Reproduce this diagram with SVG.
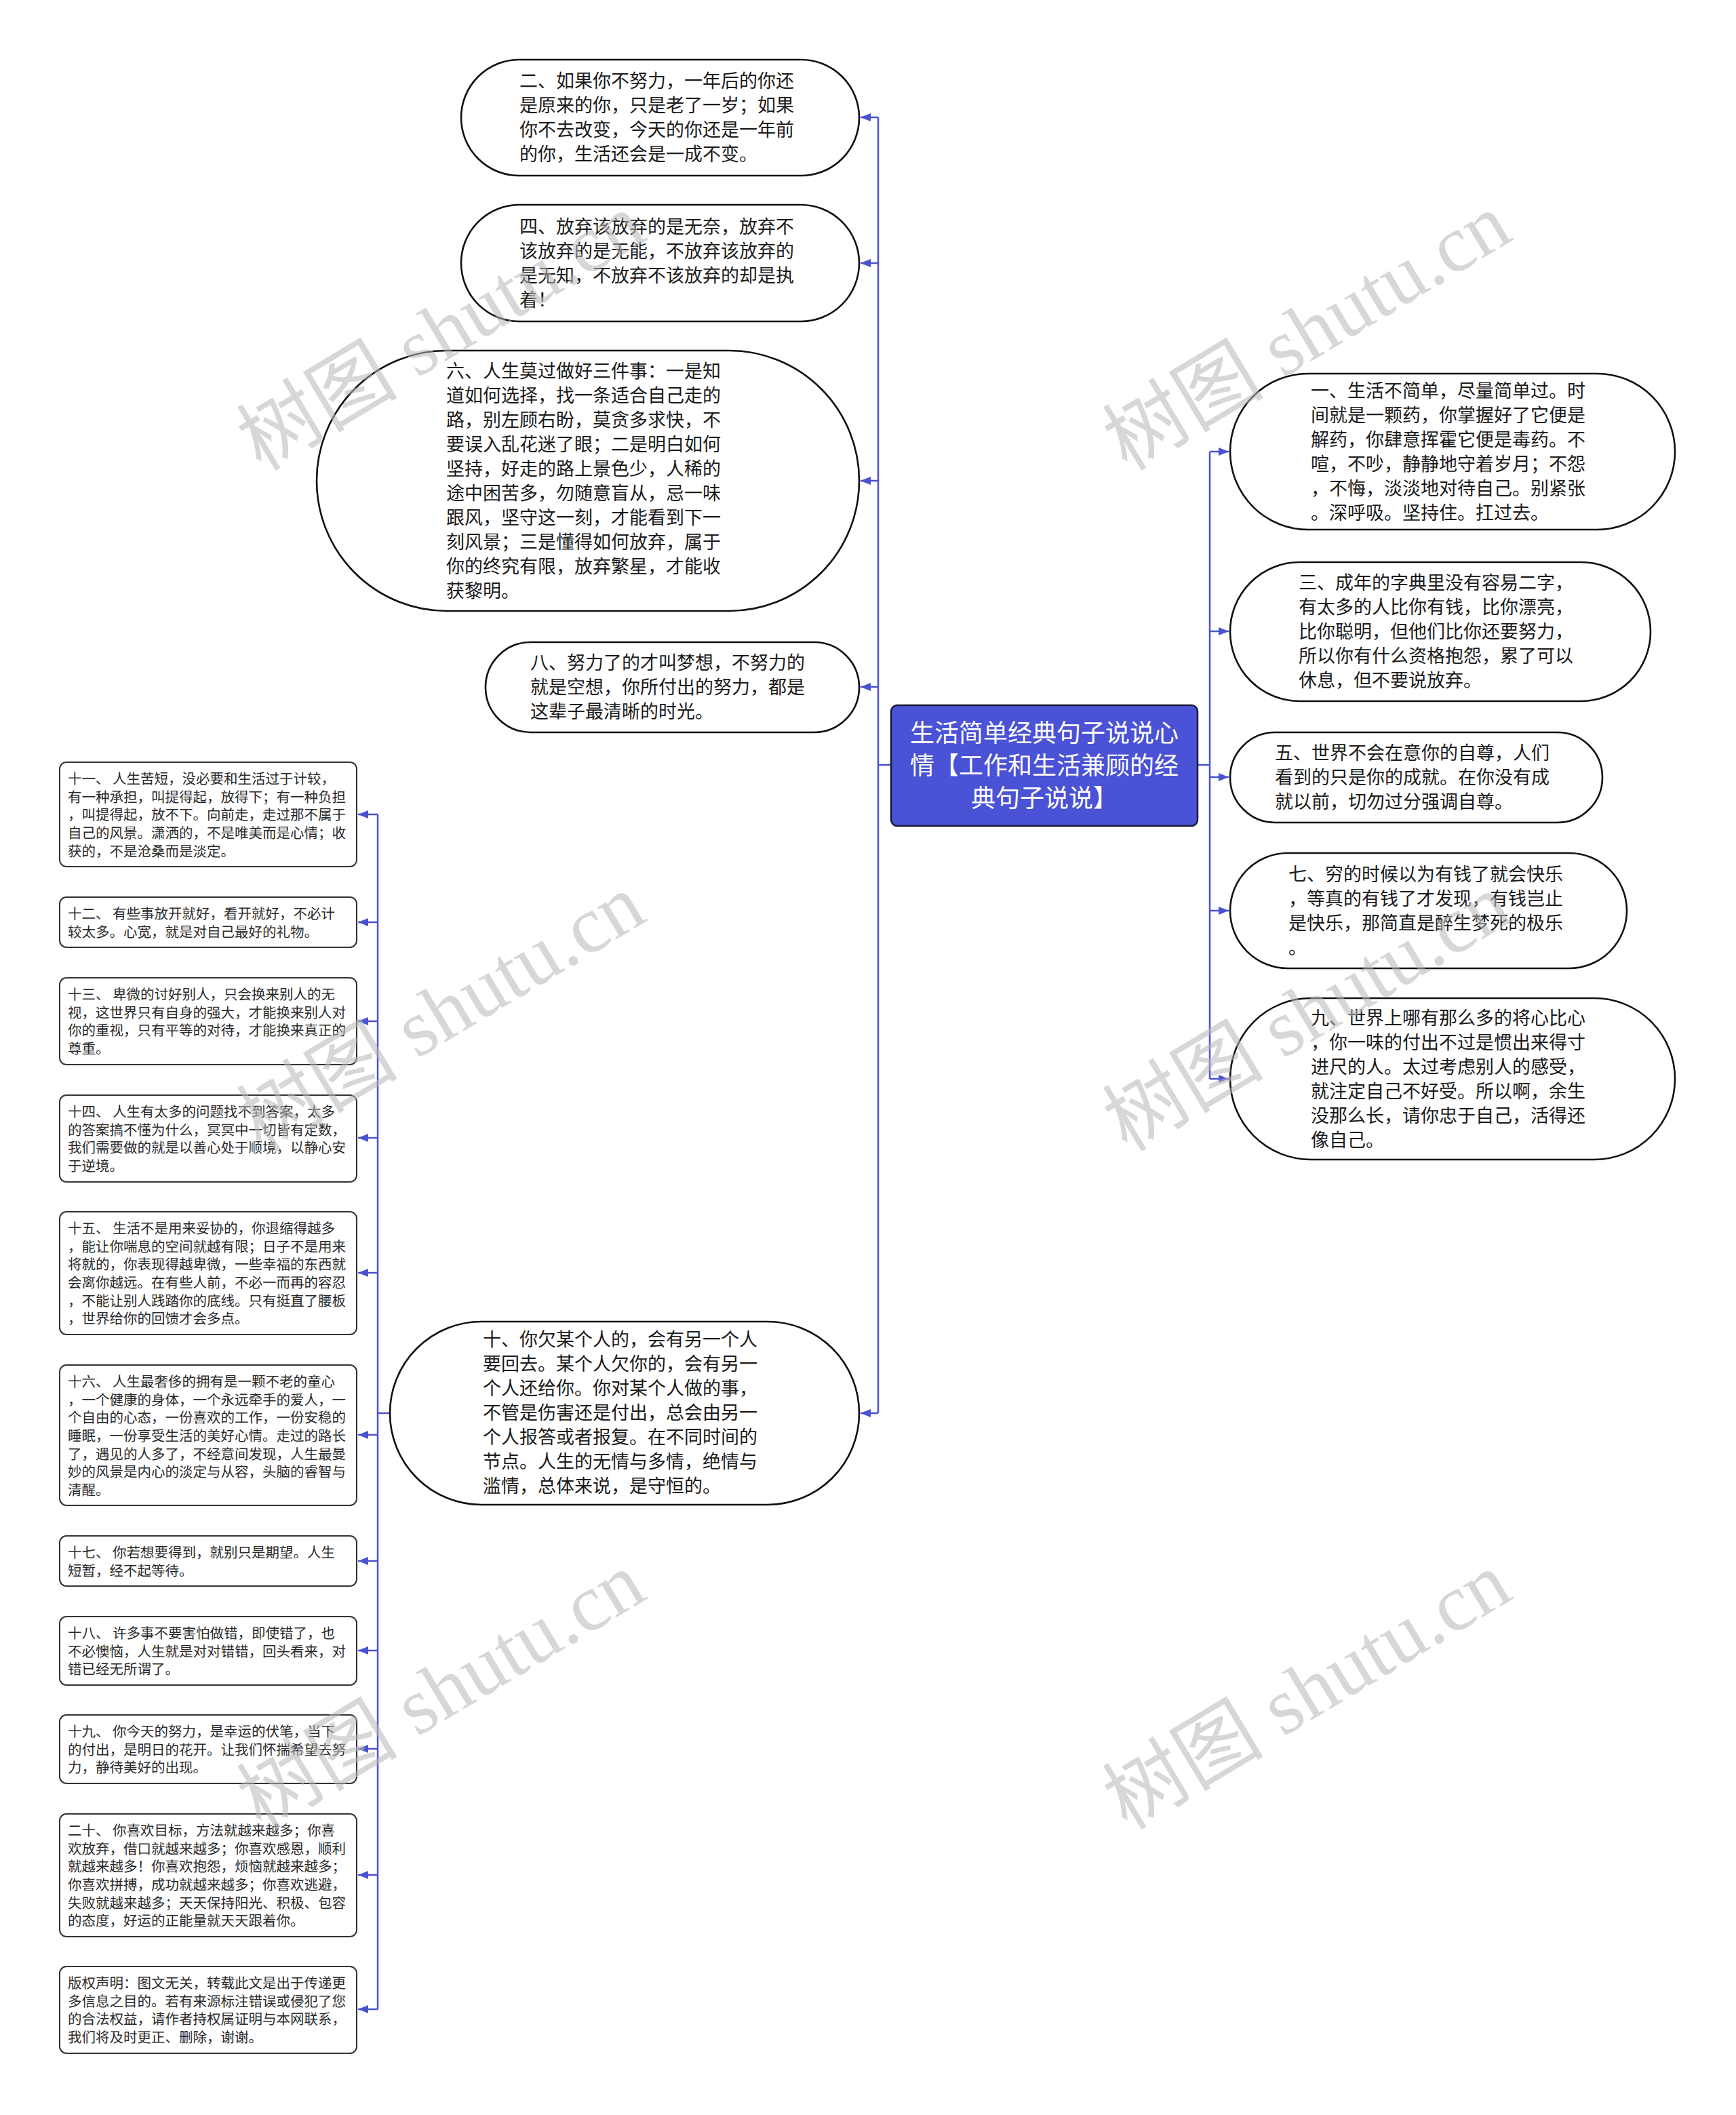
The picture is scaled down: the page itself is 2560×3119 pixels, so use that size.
<svg xmlns="http://www.w3.org/2000/svg" width="2560" height="3119" viewBox="0 0 2560 3119">
<defs>
<style>
.bg{fill:#ffffff}
.pill{fill:#ffffff;stroke:#111111;stroke-width:2.6}
.box{fill:#ffffff;stroke:#333333;stroke-width:2}
.root{fill:#4A52D6;stroke:#1a1a3a;stroke-width:2.5}
.t{font-family:"Noto Sans CJK SC","Noto Sans",sans-serif;font-size:27px;fill:#1a1a1a}
.s{font-family:"Noto Sans CJK SC","Noto Sans",sans-serif;font-size:20.5px;fill:#2a2a2a}
.rt{font-family:"Noto Sans CJK SC","Noto Sans",sans-serif;font-size:36px;fill:#ffffff;text-anchor:middle}
.ln{fill:none;stroke:#4A52D0;stroke-width:2.5}
.ar{fill:none;stroke:#4A52D0;stroke-width:2.5;marker-end:url(#arr)}
.wm{font-family:"Liberation Serif","Noto Sans CJK SC",serif;font-size:119px;fill:#b8b8b8;opacity:0.55}
</style>
<marker id="arr" markerUnits="userSpaceOnUse" markerWidth="15" markerHeight="12" refX="15" refY="6" orient="auto">
<path d="M0,0 L15,6 L0,12 Z" fill="#4A52D0"/>
</marker>
</defs>
<rect class="bg" x="0" y="0" width="2560" height="3119"/>

<g id="connectors">
<path class="ln" d="M1313,1128 H1295"/>
<path class="ln" d="M1295,173 V2084"/>
<path class="ar" d="M1295,173 H1269"/>
<path class="ar" d="M1295,388 H1269"/>
<path class="ar" d="M1295,709 H1269"/>
<path class="ar" d="M1295,1013 H1269"/>
<path class="ar" d="M1295,2084 H1269"/>
<path class="ln" d="M1766,1128 H1784"/>
<path class="ln" d="M1784,666 V1591"/>
<path class="ar" d="M1784,666 H1812"/>
<path class="ar" d="M1784,931 H1812"/>
<path class="ar" d="M1784,1146 H1812"/>
<path class="ar" d="M1784,1343 H1812"/>
<path class="ar" d="M1784,1591 H1812"/>
<path class="ln" d="M575,2084 H557"/>
<path class="ln" d="M557,1201 V2963"/>
<path class="ar" d="M557,1201 H528"/>
<path class="ar" d="M557,1360 H528"/>
<path class="ar" d="M557,1506 H528"/>
<path class="ar" d="M557,1678 H528"/>
<path class="ar" d="M557,1877 H528"/>
<path class="ar" d="M557,2116 H528"/>
<path class="ar" d="M557,2302 H528"/>
<path class="ar" d="M557,2434 H528"/>
<path class="ar" d="M557,2579 H528"/>
<path class="ar" d="M557,2765 H528"/>
<path class="ar" d="M557,2963 H528"/>
</g>

<g id="root">
<rect class="root" x="1314" y="1040" width="452" height="178" rx="9"/>
<text class="rt"><tspan x="1540" y="1094">生活简单经典句子说说心</tspan><tspan x="1540" y="1142">情【工作和生活兼顾的经</tspan><tspan x="1540" y="1190">典句子说说】</tspan></text>
</g>

<g id="n2">
<rect class="pill" x="680" y="88" width="587" height="171" rx="85.5"/>
<text class="t"><tspan x="766" y="129">二、如果你不努力，一年后的你还</tspan><tspan x="766" y="165">是原来的你，只是老了一岁；如果</tspan><tspan x="766" y="201">你不去改变，今天的你还是一年前</tspan><tspan x="766" y="237">的你，生活还会是一成不变。</tspan></text>
</g>
<g id="n4">
<rect class="pill" x="680" y="302" width="587" height="172" rx="86"/>
<text class="t"><tspan x="766" y="344">四、放弃该放弃的是无奈，放弃不</tspan><tspan x="766" y="380">该放弃的是无能，不放弃该放弃的</tspan><tspan x="766" y="416">是无知，不放弃不该放弃的却是执</tspan><tspan x="766" y="452">着！</tspan></text>
</g>
<g id="n6">
<rect class="pill" x="467" y="517" width="800" height="384" rx="192"/>
<text class="t"><tspan x="658" y="557">六、人生莫过做好三件事：一是知</tspan><tspan x="658" y="593">道如何选择，找一条适合自己走的</tspan><tspan x="658" y="629">路，别左顾右盼，莫贪多求快，不</tspan><tspan x="658" y="665">要误入乱花迷了眼；二是明白如何</tspan><tspan x="658" y="701">坚持，好走的路上景色少，人稀的</tspan><tspan x="658" y="737">途中困苦多，勿随意盲从，忌一味</tspan><tspan x="658" y="773">跟风，坚守这一刻，才能看到下一</tspan><tspan x="658" y="809">刻风景；三是懂得如何放弃，属于</tspan><tspan x="658" y="845">你的终究有限，放弃繁星，才能收</tspan><tspan x="658" y="881">获黎明。</tspan></text>
</g>
<g id="n8">
<rect class="pill" x="716" y="947" width="551" height="133" rx="66.5"/>
<text class="t"><tspan x="782" y="987">八、努力了的才叫梦想，不努力的</tspan><tspan x="782" y="1023">就是空想，你所付出的努力，都是</tspan><tspan x="782" y="1059">这辈子最清晰的时光。</tspan></text>
</g>
<g id="n10">
<rect class="pill" x="575" y="1949" width="692" height="270" rx="135"/>
<text class="t"><tspan x="712" y="1985">十、你欠某个人的，会有另一个人</tspan><tspan x="712" y="2021">要回去。某个人欠你的，会有另一</tspan><tspan x="712" y="2057">个人还给你。你对某个人做的事，</tspan><tspan x="712" y="2093">不管是伤害还是付出，总会由另一</tspan><tspan x="712" y="2129">个人报答或者报复。在不同时间的</tspan><tspan x="712" y="2165">节点。人生的无情与多情，绝情与</tspan><tspan x="712" y="2201">滥情，总体来说，是守恒的。</tspan></text>
</g>

<g id="n1">
<rect class="pill" x="1814" y="551" width="656" height="230" rx="115"/>
<text class="t"><tspan x="1933" y="586">一、生活不简单，尽量简单过。时</tspan><tspan x="1933" y="622">间就是一颗药，你掌握好了它便是</tspan><tspan x="1933" y="658">解药，你肆意挥霍它便是毒药。不</tspan><tspan x="1933" y="694">喧，不吵，静静地守着岁月；不怨</tspan><tspan x="1933" y="730">，不悔，淡淡地对待自己。别紧张</tspan><tspan x="1933" y="766">。深呼吸。坚持住。扛过去。</tspan></text>
</g>
<g id="n3">
<rect class="pill" x="1814" y="829" width="620" height="205" rx="102.5"/>
<text class="t"><tspan x="1915" y="869">三、成年的字典里没有容易二字，</tspan><tspan x="1915" y="905">有太多的人比你有钱，比你漂亮，</tspan><tspan x="1915" y="941">比你聪明，但他们比你还要努力，</tspan><tspan x="1915" y="977">所以你有什么资格抱怨，累了可以</tspan><tspan x="1915" y="1013">休息，但不要说放弃。</tspan></text>
</g>
<g id="n5">
<rect class="pill" x="1814" y="1080" width="549" height="133" rx="66.5"/>
<text class="t"><tspan x="1880" y="1120">五、世界不会在意你的自尊，人们</tspan><tspan x="1880" y="1156">看到的只是你的成就。在你没有成</tspan><tspan x="1880" y="1192">就以前，切勿过分强调自尊。</tspan></text>
</g>
<g id="n7">
<rect class="pill" x="1814" y="1258" width="585" height="170" rx="85"/>
<text class="t"><tspan x="1900" y="1299">七、穷的时候以为有钱了就会快乐</tspan><tspan x="1900" y="1335">，等真的有钱了才发现，有钱岂止</tspan><tspan x="1900" y="1371">是快乐，那简直是醉生梦死的极乐</tspan><tspan x="1900" y="1407">。</tspan></text>
</g>
<g id="n9">
<rect class="pill" x="1814" y="1472" width="656" height="238" rx="119"/>
<text class="t"><tspan x="1933" y="1511">九、世界上哪有那么多的将心比心</tspan><tspan x="1933" y="1547">，你一味的付出不过是惯出来得寸</tspan><tspan x="1933" y="1583">进尺的人。太过考虑别人的感受，</tspan><tspan x="1933" y="1619">就注定自己不好受。所以啊，余生</tspan><tspan x="1933" y="1655">没那么长，请你忠于自己，活得还</tspan><tspan x="1933" y="1691">像自己。</tspan></text>
</g>

<g id="n11">
<rect class="box" x="88" y="1124" width="438" height="154" rx="10"/>
<text class="s"><tspan x="100" y="1156">十一、 人生苦短，没必要和生活过于计较，</tspan><tspan x="100" y="1182.7">有一种承担，叫提得起，放得下；有一种负担</tspan><tspan x="100" y="1209.3">，叫提得起，放不下。向前走，走过那不属于</tspan><tspan x="100" y="1236">自己的风景。潇洒的，不是唯美而是心情；收</tspan><tspan x="100" y="1262.7">获的，不是沧桑而是淡定。</tspan></text>
</g>
<g id="n12">
<rect class="box" x="88" y="1323" width="438" height="74" rx="10"/>
<text class="s"><tspan x="100" y="1355">十二、 有些事放开就好，看开就好，不必计</tspan><tspan x="100" y="1381.7">较太多。心宽，就是对自己最好的礼物。</tspan></text>
</g>
<g id="n13">
<rect class="box" x="88" y="1442" width="438" height="128" rx="10"/>
<text class="s"><tspan x="100" y="1474">十三、 卑微的讨好别人，只会换来别人的无</tspan><tspan x="100" y="1500.7">视，这世界只有自身的强大，才能换来别人对</tspan><tspan x="100" y="1527.3">你的重视，只有平等的对待，才能换来真正的</tspan><tspan x="100" y="1554">尊重。</tspan></text>
</g>
<g id="n14">
<rect class="box" x="88" y="1615" width="438" height="128" rx="10"/>
<text class="s"><tspan x="100" y="1647">十四、 人生有太多的问题找不到答案，太多</tspan><tspan x="100" y="1673.7">的答案搞不懂为什么，冥冥中一切皆有定数，</tspan><tspan x="100" y="1700.3">我们需要做的就是以善心处于顺境，以静心安</tspan><tspan x="100" y="1727">于逆境。</tspan></text>
</g>
<g id="n15">
<rect class="box" x="88" y="1787" width="438" height="181" rx="10"/>
<text class="s"><tspan x="100" y="1819">十五、 生活不是用来妥协的，你退缩得越多</tspan><tspan x="100" y="1845.7">，能让你喘息的空间就越有限；日子不是用来</tspan><tspan x="100" y="1872.3">将就的，你表现得越卑微，一些幸福的东西就</tspan><tspan x="100" y="1899">会离你越远。在有些人前，不必一而再的容忍</tspan><tspan x="100" y="1925.7">，不能让别人践踏你的底线。只有挺直了腰板</tspan><tspan x="100" y="1952.3">，世界给你的回馈才会多点。</tspan></text>
</g>
<g id="n16">
<rect class="box" x="88" y="2013" width="438" height="207" rx="10"/>
<text class="s"><tspan x="100" y="2045">十六、 人生最奢侈的拥有是一颗不老的童心</tspan><tspan x="100" y="2071.7">，一个健康的身体，一个永远牵手的爱人，一</tspan><tspan x="100" y="2098.3">个自由的心态，一份喜欢的工作，一份安稳的</tspan><tspan x="100" y="2125">睡眠，一份享受生活的美好心情。走过的路长</tspan><tspan x="100" y="2151.7">了，遇见的人多了，不经意间发现，人生最曼</tspan><tspan x="100" y="2178.3">妙的风景是内心的淡定与从容，头脑的睿智与</tspan><tspan x="100" y="2205">清醒。</tspan></text>
</g>
<g id="n17">
<rect class="box" x="88" y="2265" width="438" height="74" rx="10"/>
<text class="s"><tspan x="100" y="2297">十七、 你若想要得到，就别只是期望。人生</tspan><tspan x="100" y="2323.7">短暂，经不起等待。</tspan></text>
</g>
<g id="n18">
<rect class="box" x="88" y="2384" width="438" height="101" rx="10"/>
<text class="s"><tspan x="100" y="2416">十八、 许多事不要害怕做错，即使错了，也</tspan><tspan x="100" y="2442.7">不必懊恼，人生就是对对错错，回头看来，对</tspan><tspan x="100" y="2469.3">错已经无所谓了。</tspan></text>
</g>
<g id="n19">
<rect class="box" x="88" y="2529" width="438" height="101" rx="10"/>
<text class="s"><tspan x="100" y="2561">十九、 你今天的努力，是幸运的伏笔，当下</tspan><tspan x="100" y="2587.7">的付出，是明日的花开。让我们怀揣希望去努</tspan><tspan x="100" y="2614.3">力，静待美好的出现。</tspan></text>
</g>
<g id="n20">
<rect class="box" x="88" y="2675" width="438" height="181" rx="10"/>
<text class="s"><tspan x="100" y="2707">二十、 你喜欢目标，方法就越来越多；你喜</tspan><tspan x="100" y="2733.7">欢放弃，借口就越来越多；你喜欢感恩，顺利</tspan><tspan x="100" y="2760.3">就越来越多！你喜欢抱怨，烦恼就越来越多；</tspan><tspan x="100" y="2787">你喜欢拼搏，成功就越来越多；你喜欢逃避，</tspan><tspan x="100" y="2813.7">失败就越来越多；天天保持阳光、积极、包容</tspan><tspan x="100" y="2840.3">的态度，好运的正能量就天天跟着你。</tspan></text>
</g>
<g id="ncopy">
<rect class="box" x="88" y="2900" width="438" height="128" rx="10"/>
<text class="s"><tspan x="100" y="2932">版权声明：图文无关，转载此文是出于传递更</tspan><tspan x="100" y="2958.7">多信息之目的。若有来源标注错误或侵犯了您</tspan><tspan x="100" y="2985.3">的合法权益，请作者持权属证明与本网联系，</tspan><tspan x="100" y="3012">我们将及时更正、删除，谢谢。</tspan></text>
</g>

<g id="watermarks">
<text class="wm" transform="translate(385,696) rotate(-31)">树图 shutu.cn</text>
<text class="wm" transform="translate(1662,696) rotate(-31)">树图 shutu.cn</text>
<text class="wm" transform="translate(385,1700) rotate(-31)">树图 shutu.cn</text>
<text class="wm" transform="translate(1662,1700) rotate(-31)">树图 shutu.cn</text>
<text class="wm" transform="translate(385,2700) rotate(-31)">树图 shutu.cn</text>
<text class="wm" transform="translate(1662,2700) rotate(-31)">树图 shutu.cn</text>
</g>
</svg>
